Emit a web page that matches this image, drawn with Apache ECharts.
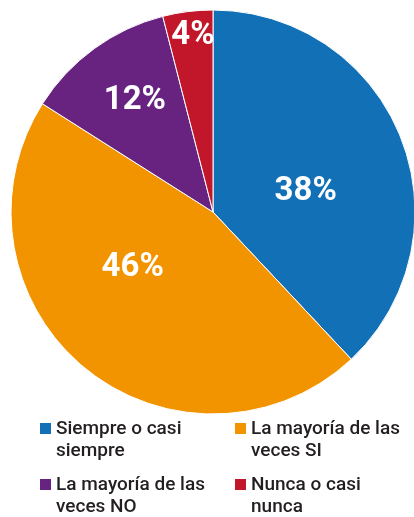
<!DOCTYPE html>
<html>
<head>
<meta charset="utf-8">
<script src="https://cdn.jsdelivr.net/npm/echarts@6/dist/echarts.min.js"></script>
<style>
  html, body { margin: 0; padding: 0; background: #fff; }
  #chart { width: 414px; height: 517px; }
</style>
</head>
<body>
<div id="chart"></div>
<script>
// datos
const categories = ['Siempre o casi siempre', 'La mayoría de las veces SI', 'La mayoría de las veces NO', 'Nunca o casi nunca']
const legendLabels = ['Siempre o casi\nsiempre', 'La mayoría de las\nveces SI', 'La mayoría de las\nveces NO', 'Nunca o casi\nnunca']
const values = [38, 46, 12, 4]
const colors = ['#1270b7', '#f29400', '#67237f', '#c2172b']

// ajuste manual de las etiquetas dentro de cada sector
const labelShift = [[-4, 18], [-14, -24], [-17, -27], [-7, -73]]

const chart = echarts.init(document.getElementById('chart'))

// icono cuadrado alineado con la primera línea del texto
const squareIcon = 'path://M0,5h11v11h-11z M0,0L11,0 M0,44L11,44'

const legendBase = {
  orient: 'vertical',
  top: 418,
  height: 110,
  padding: 0,
  itemGap: 12,
  itemWidth: 11,
  itemHeight: 44,
  icon: squareIcon,
  itemStyle: { borderWidth: 0 },
  selectedMode: false,
  formatter: name => legendLabels[categories.indexOf(name)],
  textStyle: {
    fontFamily: 'Roboto',
    fontWeight: 500,
    fontSize: 19,
    lineHeight: 22,
    color: '#231f20'
  }
}

chart.setOption({
  animation: false,
  legend: [
    Object.assign({}, legendBase, { left: 40, data: [categories[0], categories[2]] }),
    Object.assign({}, legendBase, { left: 235, data: [categories[1], categories[3]] })
  ],
  series: [
    {
      type: 'pie',
      center: [213, 212],
      radius: [0, 202],
      startAngle: 90,
      clockwise: true,
      itemStyle: {
        borderColor: '#fff',
        borderWidth: 1
      },
      label: {
        show: true,
        position: 'inside',
        formatter: '{c}%',
        color: '#fff',
        fontFamily: 'Roboto',
        fontWeight: 'bold',
        fontSize: 33
      },
      labelLine: { show: false },
      emphasis: { disabled: true },
      labelLayout: params => ({
        dx: labelShift[params.dataIndex][0],
        dy: labelShift[params.dataIndex][1]
      }),
      data: categories.map((name, i) => ({
        name: name,
        value: values[i],
        itemStyle: { color: colors[i] }
      }))
    }
  ]
})

window.addEventListener('resize', () => {
  chart.resize()
})
</script>
</body>
</html>
